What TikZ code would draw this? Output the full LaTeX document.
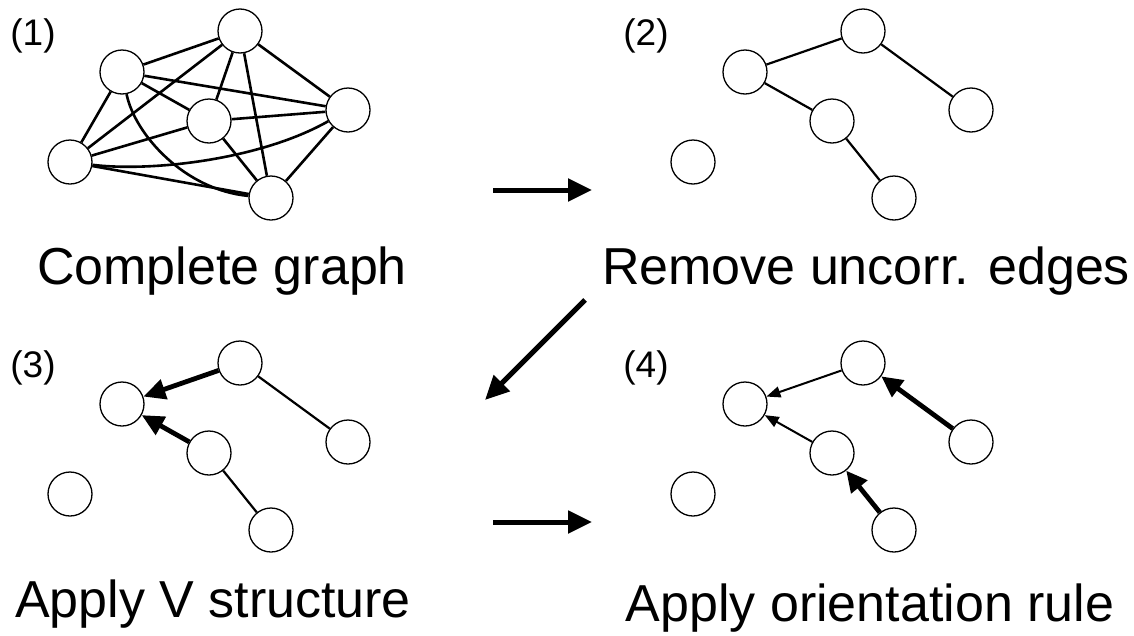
\documentclass[tikz,border=0pt]{standalone}
\usepackage{fontspec}
\setmainfont{Liberation Sans}
\usetikzlibrary{arrows.meta}

\tikzset{
  vertex/.style={circle, draw=black, line width=1.3pt, fill=white,
                 minimum size=44pt, inner sep=0pt},
  fulledge/.style={line width=2.6pt},
  plainedge/.style={line width=2.2pt},
  vedge/.style={line width=4.8pt, -{Triangle[length=22pt,width=20pt]}},
  oriented/.style={line width=2pt, -{Triangle[length=14pt,width=11pt]}},
  strongarrow/.style={line width=4.8pt, -{Triangle[length=21pt,width=20pt]}},
  bigarrow/.style={line width=5pt, -{Triangle[length=24pt,width=22pt]}},
  caption/.style={anchor=base, font=\fontsize{52}{60}\selectfont, inner sep=0pt},
  stepno/.style={anchor=base, font=\fontsize{37}{44}\selectfont, inner sep=0pt}
}

% the six variables, laid out the same way in every panel
\newcommand{\placevars}[1]{%
  \node[vertex] (a#1) at (122,72) {};
  \node[vertex] (b#1) at (240,31) {};
  \node[vertex] (c#1) at (209,121) {};
  \node[vertex] (d#1) at (348,110) {};
  \node[vertex] (e#1) at (70,162) {};
  \node[vertex] (f#1) at (271,198) {};
}

\begin{document}
\begin{tikzpicture}[x=1pt, y=-1pt]
\useasboundingbox (0,0) rectangle (1134,635);

% ---------- (1) complete graph ----------
\node[stepno] (l1) at (33,45) {(1)};
\begin{scope}
  % nodes first (for names), edges drawn behind by redrawing nodes on top
  \placevars{1}
  \draw[fulledge] (a1) -- (b1);
  \draw[fulledge] (a1) -- (c1);
  \draw[fulledge] (a1) -- (d1);
  \draw[fulledge] (a1) -- (e1);
  \draw[fulledge] (a1) .. controls (135,135) and (185,190) .. (f1);
  \draw[fulledge] (b1) -- (c1);
  \draw[fulledge] (b1) -- (d1);
  \draw[fulledge] (b1) -- (e1);
  \draw[fulledge] (b1) -- (f1);
  \draw[fulledge] (c1) -- (d1);
  \draw[fulledge] (c1) -- (e1);
  \draw[fulledge] (c1) -- (f1);
  \draw[fulledge] (d1) -- (f1);
  \draw[fulledge] (e1) -- (f1);
  \draw[fulledge] (e1) .. controls (150,172) and (260,160) .. (d1);
\end{scope}
\node[caption] (t1) at (222,284) {Complete graph};

% ---------- (2) uncorrelated edges removed ----------
\node[stepno] (l2) at (646,45) {(2)};
\begin{scope}[shift={(623,0)}]
  \placevars{2}
  \draw[plainedge] (a2) -- (b2);
  \draw[plainedge] (a2) -- (c2);
  \draw[plainedge] (b2) -- (d2);
  \draw[plainedge] (c2) -- (f2);
\end{scope}
\node[caption] (t2) at (866,284) {Remove uncorr. edges};

% ---------- (3) V structure ----------
\node[stepno] (l3) at (33,377) {(3)};
\begin{scope}[shift={(0,332)}]
  \placevars{3}
  \draw[vedge] (b3) -- (a3);
  \draw[vedge] (c3) -- (a3);
  \draw[plainedge] (b3) -- (d3);
  \draw[plainedge] (c3) -- (f3);
\end{scope}
\node[caption] (t3) at (213,617) {Apply V structure};

% ---------- (4) orientation rule ----------
\node[stepno] (l4) at (646,377) {(4)};
\begin{scope}[shift={(623,332)}]
  \placevars{4}
  \draw[oriented] (b4) -- (a4);
  \draw[oriented] (c4) -- (a4);
  \draw[strongarrow] (d4) -- (b4);
  \draw[strongarrow] (f4) -- (c4);
\end{scope}
\node[caption] (t4) at (870,621) {Apply orientation rule};

% ---------- flow between the steps ----------
\coordinate (s12) at (493,190);
\coordinate (e12) at (592,190);
\coordinate (s23) at (585,300);
\coordinate (e23) at (485,400);
\coordinate (s34) at (493,522);
\coordinate (e34) at (592,522);
\draw[bigarrow] (s12) -- (e12);
\draw[bigarrow] (s23) -- (e23);
\draw[bigarrow] (s34) -- (e34);

\end{tikzpicture}
\end{document}
